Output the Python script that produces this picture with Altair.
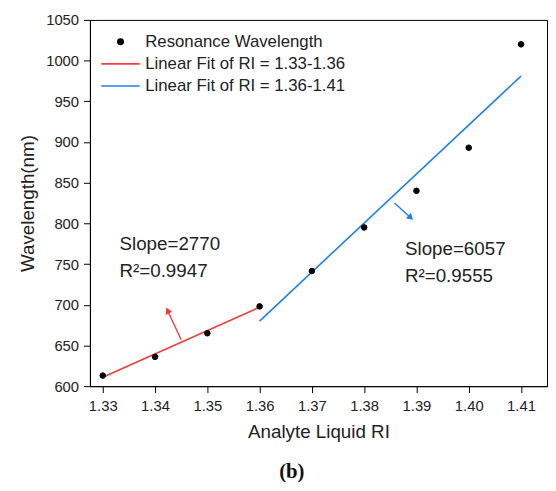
import altair as alt
import pandas as pd

FONT = "Liberation Sans"

# ---- data ----
ri = [1.33, 1.34, 1.35, 1.36, 1.37, 1.38, 1.39, 1.40, 1.41]
wavelength = [613, 636, 665, 698, 741.5, 795, 840, 893, 1020]

fit1_ri = [1.33, 1.36]
fit1_wl = [611, 697]
fit2_ri = [1.36, 1.41]
fit2_wl = [680, 981]

series_names = ["Resonance Wavelength", "Linear Fit of RI = 1.33-1.36", "Linear Fit of RI = 1.36-1.41"]
series_colors = ["#000000", "#f23c3c", "#1c80e4"]

annot_text = ["Slope=2770", "R²=0.9947", "Slope=6057", "R²=0.9555"]
annot_ri = [1.3332, 1.3332, 1.3878, 1.3878]
annot_wl = [767, 734.5, 761, 728]

arrow_ri = [1.3450, 1.3858]
arrow_wl = [657, 825]
arrow_ri2 = [1.3424, 1.3889]
arrow_wl2 = [693, 807]
arrow_angle = [335, 133]
arrow_color = ["#f23c3c", "#1c80e4"]

x_major = [1.33, 1.34, 1.35, 1.36, 1.37, 1.38, 1.39, 1.40, 1.41]
x_minor = [1.335, 1.345, 1.355, 1.365, 1.375, 1.385, 1.395, 1.405]
y_major = [600, 650, 700, 750, 800, 850, 900, 950, 1000, 1050]
y_minor = [625, 675, 725, 775, 825, 875, 925, 975, 1025]

# ---- tables ----
pts = pd.DataFrame({"ri": ri, "wl": wavelength, "series": series_names[0]})
fits = pd.DataFrame({
    "ri": fit1_ri + fit2_ri,
    "wl": fit1_wl + fit2_wl,
    "series": [series_names[1]] * len(fit1_ri) + [series_names[2]] * len(fit2_ri),
})
annots = pd.DataFrame({"ri": annot_ri, "wl": annot_wl, "text": annot_text})
arrows = pd.DataFrame({"ri": arrow_ri, "wl": arrow_wl, "ri2": arrow_ri2, "wl2": arrow_wl2,
                       "angle": arrow_angle, "col": arrow_color})

line_path = "M-7.1,0H7.1"

legend = alt.Legend(title=None, orient="none", legendX=22.5, legendY=13.5,
                    labelFontSize=17, labelFont=FONT, labelColor="#222222",
                    symbolSize=30, symbolStrokeWidth=1.6, labelOffset=16.5,
                    rowPadding=4.5, padding=0, symbolOpacity=1, labelLimit=400)

fill_scale = alt.Scale(domain=series_names, range=series_colors)
shape_scale = alt.Scale(domain=series_names, range=["circle", line_path, line_path])

x_enc = alt.X("ri:Q", title="Analyte Liquid RI",
              scale=alt.Scale(domain=[1.32755, 1.41497], nice=False, zero=False),
              axis=alt.Axis(values=sorted(x_major + x_minor), format=".2f",
                            labelExpr="round(datum.value*1000) % 10 == 0 ? datum.label : ''",
                            tickSize={"condition": {"test": "round(datum.value*1000) % 10 != 0", "value": 3.5}, "value": 6.5},
                            labelPadding=6, titlePadding=10, grid=False, labelOverlap=False, labelFlush=False))
y_enc = alt.Y("wl:Q", title="Wavelength(nm)",
              scale=alt.Scale(domain=[600, 1050], nice=False, zero=False),
              axis=alt.Axis(values=sorted(y_major + y_minor), format="d",
                            labelExpr="datum.value % 50 == 0 ? datum.label : ''",
                            tickSize={"condition": {"test": "datum.value % 50 != 0", "value": 3.5}, "value": 6.5},
                            labelPadding=5, titlePadding=8, grid=False, labelOverlap=False, labelFlush=False))

points = alt.Chart(pts).mark_point(filled=True, size=32, opacity=1, strokeWidth=1).encode(
    x=x_enc, y=y_enc,
    fill=alt.Fill("series:N", scale=fill_scale, legend=legend),
    stroke=alt.Stroke("series:N", scale=fill_scale, legend=legend),
    shape=alt.Shape("series:N", scale=shape_scale, legend=legend),
)

lines = alt.Chart(fits).mark_line(strokeWidth=1.6).encode(
    x="ri:Q", y="wl:Q",
    stroke=alt.Stroke("series:N", scale=fill_scale, legend=legend),
)

shafts = alt.Chart(arrows).mark_rule(strokeWidth=1.4).encode(
    x="ri:Q", y="wl:Q", x2="ri2:Q", y2="wl2:Q",
    color=alt.Color("col:N", scale=None),
)
heads = alt.Chart(arrows).mark_point(shape="triangle-up", filled=True, size=55, opacity=1).encode(
    x="ri2:Q", y="wl2:Q",
    angle=alt.Angle("angle:Q", scale=None),
    color=alt.Color("col:N", scale=None),
)

texts = alt.Chart(annots).mark_text(align="left", baseline="alphabetic", fontSize=19,
                                    font=FONT, color="#222222").encode(
    x="ri:Q", y="wl:Q", text="text:N",
)

chart = alt.layer(lines, points, shafts, heads, texts).properties(
    width=463, height=371,
    autosize=alt.AutoSizeParams(type="none"),
    padding={"left": 83, "top": 9, "right": 1, "bottom": 94},
    title=alt.TitleParams("(b)", orient="bottom", font="Liberation Serif", fontSize=21,
                          fontWeight="bold", color="#111111", offset=20, dx=-27, anchor="middle"),
).configure_view(
    stroke="#000000", strokeWidth=1
).configure_axis(
    domainColor="#000000", tickColor="#000000", domainWidth=1, tickWidth=1,
    labelFont=FONT, labelFontSize=15, labelColor="#222222",
    titleFont=FONT, titleFontSize=19, titleFontWeight="normal", titleColor="#222222",
)

chart.save("out.html", embed_options={"renderer": "svg", "actions": False})
